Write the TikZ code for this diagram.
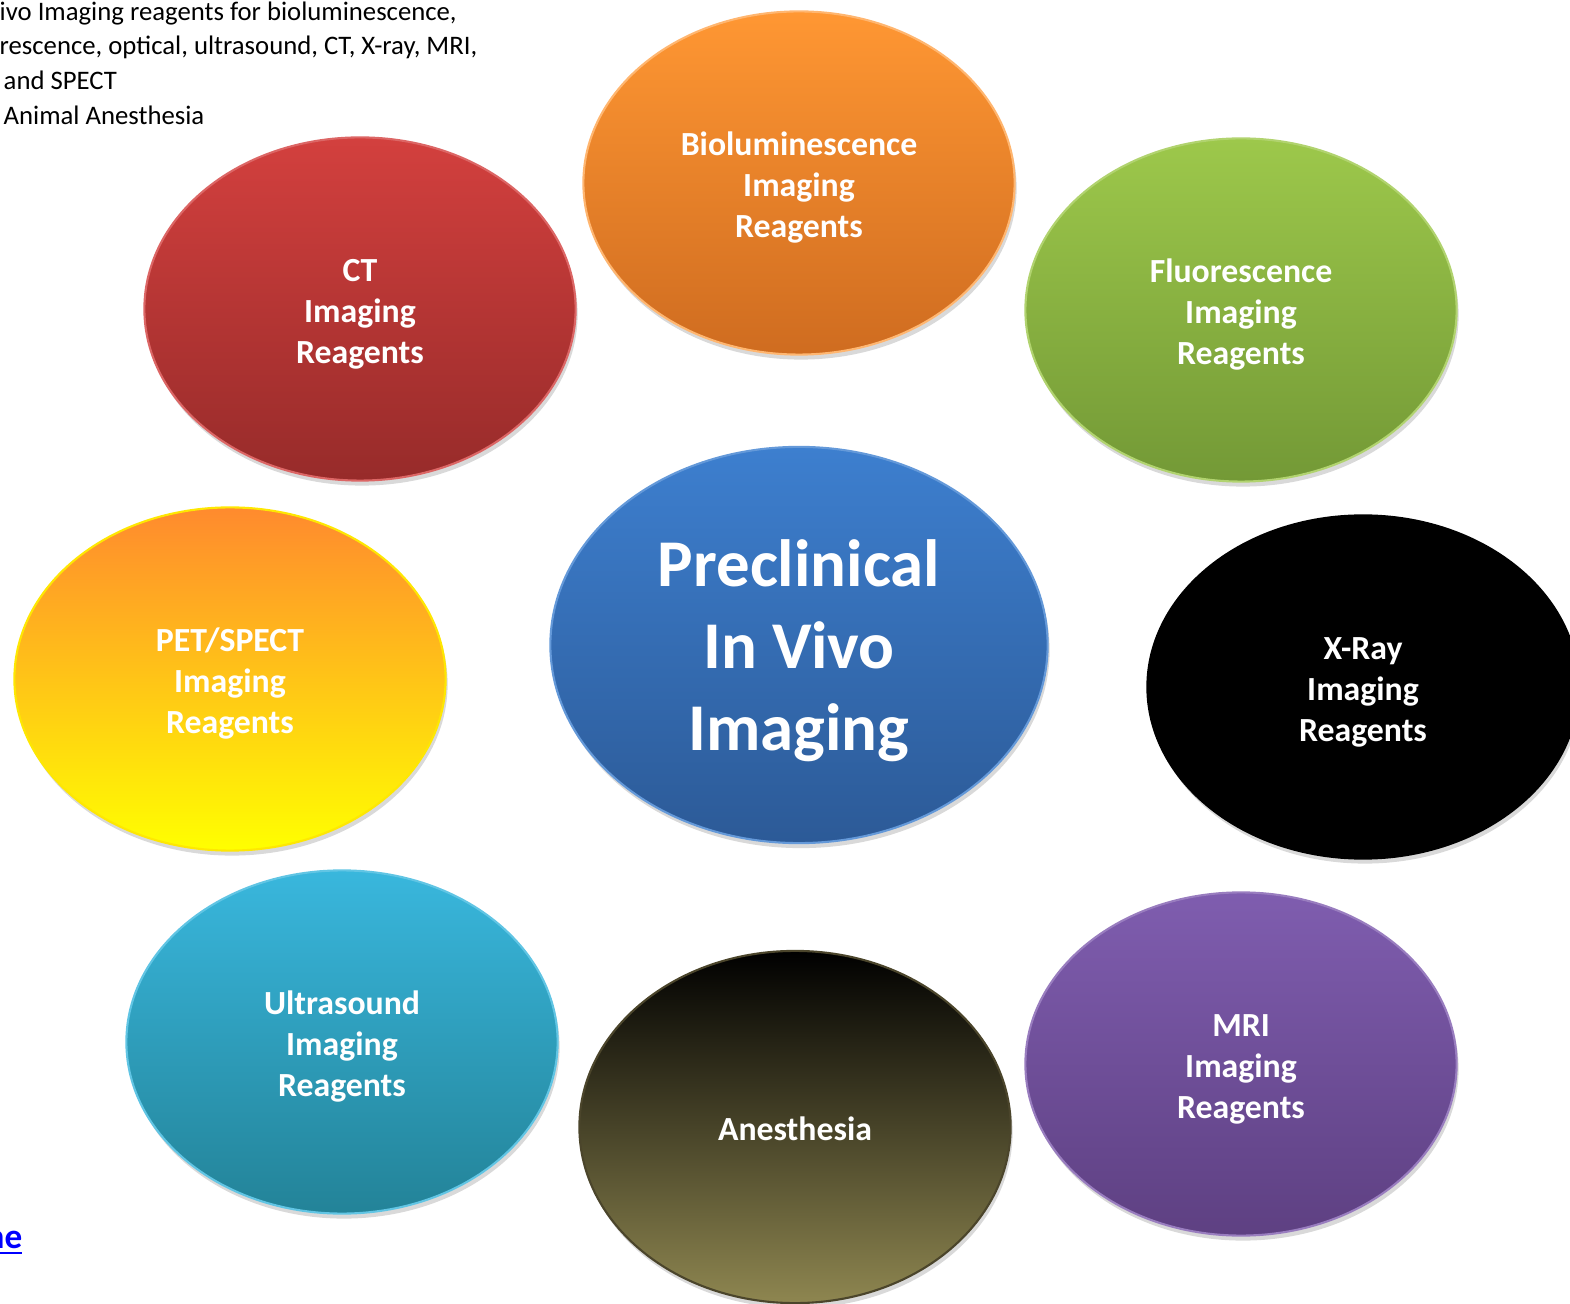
\documentclass[tikz,border=0pt]{standalone}
\usepackage{fontspec}
\setmainfont{Carlito}
\usetikzlibrary{shapes.geometric,shadows}

\definecolor{bioTop}{HTML}{FF9733}
\definecolor{bioBot}{HTML}{CF6C20}
\definecolor{ctTop}{HTML}{D3403E}
\definecolor{ctBot}{HTML}{972B2A}
\definecolor{fluTop}{HTML}{9DC84B}
\definecolor{fluBot}{HTML}{739936}
\definecolor{petTop}{HTML}{FF8A2E}
\definecolor{petBot}{HTML}{FFFF00}
\definecolor{cenTop}{HTML}{3D7FCF}
\definecolor{cenBot}{HTML}{2C5A97}
\definecolor{ultTop}{HTML}{39B7DD}
\definecolor{ultBot}{HTML}{238398}
\definecolor{aneMid}{HTML}{3A3522}
\definecolor{aneBot}{HTML}{8E8650}
\definecolor{mriTop}{HTML}{7F5DAF}
\definecolor{mriBot}{HTML}{5E4082}
\definecolor{linkblue}{HTML}{0000FF}

% label lines, set a little lower than the box centre
\newcommand{\bubtext}[2][1.5pt]{\raisebox{-#1}[\height][\depth]{\begin{tabular}{@{}c@{}}#2\end{tabular}}}

\begin{document}
\begin{tikzpicture}[x=0.01cm, y=-0.01cm,
  bubble/.style={ellipse, minimum width=4.31cm, minimum height=3.43cm, inner sep=0pt,
    text=white, line width=0.6pt,
    font=\fontsize{9.6}{11.7}\selectfont\bfseries,
    drop shadow={opacity=0.3, shadow xshift=0.02cm, shadow yshift=-0.05cm}},
  notetext/.style={anchor=base west, inner sep=0pt, font=\fontsize{7.6}{9}\selectfont}]

  \useasboundingbox (0,0) rectangle (1570,1304);
  \clip (0,0) rectangle (1570,1304);

  % note at the top left
  \node[notetext] (note1) at (-1,21) {ivo Imaging reagents for bioluminescence,};
  \node[notetext] (note2) at (-1,55) {rescence, optical, ultrasound, CT, X-ray, MRI,};
  \node[notetext] (note3) at (3,90) {and SPECT};
  \node[notetext] (note4) at (3,125) {Animal Anesthesia};
  \node[anchor=base east, inner sep=0pt, text=linkblue, font=\fontsize{10}{12}\selectfont\bfseries] (link) at (23,1248) {\underline{ne}};

  % bubbles
  \node[bubble, top color=bioTop, bottom color=bioBot, draw=bioTop!70!white] (bio) at (799,183) {\bubtext{Bioluminescence\\Imaging\\Reagents}};
  \node[bubble, top color=ctTop, bottom color=ctBot, draw=ctTop!80!white] (ct) at (360,309) {\bubtext{CT\\Imaging\\Reagents}};
  \node[bubble, top color=fluTop, bottom color=fluBot, draw=fluTop!80!white] (flu) at (1241,310) {\bubtext{Fluorescence\\Imaging\\Reagents}};
  \node[bubble, top color=petTop, bottom color=petBot, draw=yellow!90!orange] (pet) at (230,679) {\bubtext{PET/SPECT\\Imaging\\Reagents}};
  \node[bubble, minimum width=4.97cm, minimum height=3.96cm, top color=cenTop, bottom color=cenBot, draw=cenTop!80!white,
    font=\fontsize{19}{23.3}\selectfont\bfseries] (center) at (799,645) {\bubtext[2pt]{Preclinical\\In Vivo\\Imaging}};
  \node[bubble, fill=black, draw=black] (xray) at (1363,687) {\bubtext{X-Ray\\Imaging\\Reagents}};
  \node[bubble, top color=ultTop, bottom color=ultBot, draw=ultTop!80!white] (ult) at (342,1042) {\bubtext{Ultrasound\\Imaging\\Reagents}};
  \node[bubble, minimum height=3.52cm, top color=black, middle color=aneMid, bottom color=aneBot, draw=aneMid!80!aneBot] (ane) at (795,1127) {\bubtext{Anesthesia}};
  \node[bubble, top color=mriTop, bottom color=mriBot, draw=mriTop!80!white] (mri) at (1241,1064) {\bubtext{MRI\\Imaging\\Reagents}};

\end{tikzpicture}
\end{document}
